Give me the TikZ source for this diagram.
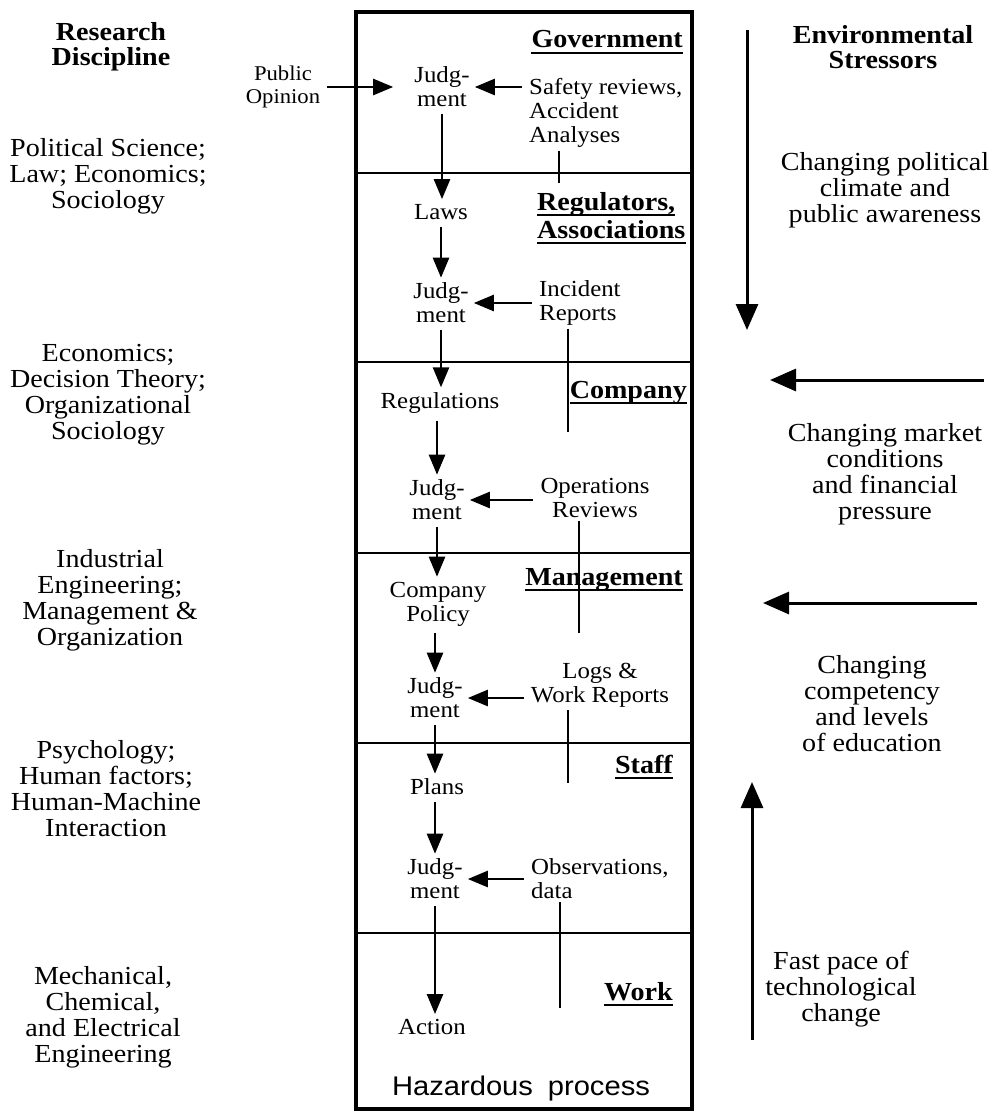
\documentclass[tikz,border=0pt]{standalone}
\usepackage{fontspec}
\setmainfont{Liberation Serif}[FakeStretch=1.08]
\newfontfamily\hzfont{Liberation Sans}[FakeStretch=1.08]
\usetikzlibrary{arrows.meta}
\newcommand\titlenode[5]{%
  \node[ttl, anchor=base #5] (#1) at (#2,#3) {#4};
  \draw[ulin] ([yshift=-5pt]#1.base west) -- ([yshift=-5pt]#1.base east);}
\begin{document}
\begin{tikzpicture}[x=1pt,y=-1pt,
  lbl/.style={font=\fontsize{23}{24}\selectfont, align=center, inner sep=3pt},
  side/.style={font=\fontsize{26}{26}\selectfont, align=center, inner sep=0pt},
  sidehead/.style={font=\bfseries\fontsize{26}{25}\selectfont, align=center, inner sep=0pt},
  ttl/.style={font=\bfseries\fontsize{26}{26}\selectfont, inner sep=0pt},
  ulin/.style={line width=2pt},
  arr/.style={line width=2.5pt, -{Triangle[length=20pt,width=16pt]}, shorten <=4pt, shorten >=2pt},
  bigarr/.style={line width=3pt, -{Triangle[length=26pt,width=22pt]}},
  tick/.style={line width=2pt},
  frame/.style={line width=3.2pt},
  divider/.style={line width=2.6pt}]
\useasboundingbox (0,0) rectangle (997,1113);

% frame and dividers
\draw[frame] (356,12) rectangle (692,1109);
\foreach \yy in {173,362,553,743,933} \draw[divider] (356,\yy) -- (692,\yy);

% left column
\node[sidehead] (rd) at (111,47) {Research\\Discipline};
\node[side] (d1) at (108,176) {Political Science;\\Law; Economics;\\Sociology};
\node[side] (d2) at (108,395) {Economics;\\Decision Theory;\\Organizational\\Sociology};
\node[side] (d3) at (110,600) {Industrial\\Engineering;\\Management \&\\Organization};
\node[side] (d4) at (106,789) {Psychology;\\Human factors;\\Human-Machine\\Interaction};
\node[side] (d5) at (103,1017) {Mechanical,\\Chemical,\\and Electrical\\Engineering};

% right column
\node[sidehead] (es) at (883,47) {Environmental\\Stressors};
\node[side] (s1) at (885,190) {Changing political\\climate and\\public awareness};
\node[side] (s2) at (885,474) {Changing market\\conditions\\and financial\\pressure};
\node[side] (s3) at (872,704) {Changing\\competency\\and levels\\of education};
\node[side] (s4) at (841,989) {Fast pace of\\technological\\change};
\coordinate (a1s) at (747,30);  \coordinate (a1e) at (747,330);
\coordinate (a2s) at (984,380); \coordinate (a2e) at (770,380);
\coordinate (a3s) at (977,603); \coordinate (a3e) at (763,603);
\coordinate (a4s) at (752,1040); \coordinate (a4e) at (752,782);
\draw[bigarr] (a1s) -- (a1e);
\draw[bigarr] (a2s) -- (a2e);
\draw[bigarr] (a3s) -- (a3e);
\draw[bigarr] (a4s) -- (a4e);

% titles
\titlenode{tgov}{683}{48}{Government}{east}
\titlenode{treg}{537}{210}{Regulators,}{west}
\titlenode{tass}{537}{238}{Associations}{west}
\titlenode{tcom}{687}{398}{Company}{east}
\titlenode{tman}{683}{585}{Management}{east}
\titlenode{tsta}{673}{773}{Staff}{east}
\titlenode{twor}{673}{1000}{Work}{east}

% government
\node[lbl, font=\fontsize{21}{23}\selectfont] (pub) at (283,87) {Public\\Opinion};
\node[lbl] (j1) at (442,87) {Judg-\\ment};
\node[lbl, align=left, anchor=west] (saf) at (526,113) {Safety reviews,\\Accident\\Analyses};
\draw[arr, shorten >=18pt] (pub.east) -- (j1.west);
\draw[arr] (j1 -| saf.west) -- (j1.east);
\coordinate (t1) at (559,183);
\draw[tick] (saf.south -| t1) -- (t1);

% regulators
\node[lbl] (laws) at (441,212) {Laws};
\node[lbl] (j2) at (441,303) {Judg-\\ment};
\node[lbl, align=left, anchor=west] (inc) at (536,303) {Incident\\Reports};
\draw[arr] (j1.south) -- (j1.south |- laws.north);
\draw[arr] (laws.south) -- (laws.south |- j2.north);
\draw[arr] (j2 -| inc.west) -- (j2.east);
\coordinate (t2) at (568,432);
\draw[tick] (inc.south -| t2) -- (t2);

% company
\node[lbl] (regs) at (440,403) {Regulations};
\node[lbl] (j3) at (437,500) {Judg-\\ment};
\node[lbl] (ops) at (595,498) {Operations\\Reviews};
\draw[arr] (j2.south) -- (j2.south |- regs.north);
\draw[arr] (regs.south -| j3) -- (j3.north);
\draw[arr] (j3 -| ops.west) -- (j3.east);
\coordinate (t3) at (579,633);
\draw[tick] (ops.south -| t3) -- (t3);

% management
\node[lbl] (cp) at (438,604) {Company\\Policy};
\node[lbl] (j4) at (435,698) {Judg-\\ment};
\node[lbl] (logs) at (600,685) {Logs \&\\Work Reports};
\draw[arr] (j3.south) -- (j3.south |- cp.north);
\draw[arr] (cp.south -| j4) -- (j4.north);
\draw[arr] (j4 -| logs.west) -- (j4.east);
\coordinate (t4) at (568,783);
\draw[tick] (logs.south -| t4) -- (t4);

% staff
\node[lbl] (plans) at (437,787) {Plans};
\node[lbl] (j5) at (435,879) {Judg-\\ment};
\node[lbl, align=left, anchor=west] (obs) at (528,879) {Observations,\\data};
\draw[arr] (j4.south) -- (j4.south |- plans.north);
\draw[arr] (plans.south -| j5) -- (j5.north);
\draw[arr] (j5 -| obs.west) -- (j5.east);
\coordinate (t5) at (560,1008);
\draw[tick] (obs.south -| t5) -- (t5);

% work
\node[lbl] (act) at (432,1027) {Action};
\node[inner sep=0pt, anchor=base, font=\hzfont\fontsize{27}{27}\selectfont] (haz) at (521,1095) {Hazardous\hspace{0.55em}process};
\draw[arr] (j5.south) -- (j5.south |- act.north);
\end{tikzpicture}
\end{document}
